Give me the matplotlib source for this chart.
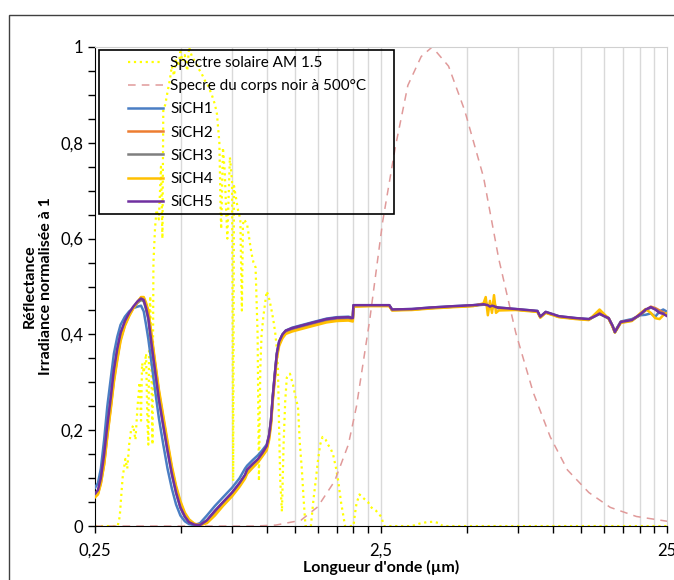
import matplotlib
matplotlib.use('Agg')
import matplotlib.pyplot as plt
from matplotlib.patches import Rectangle
from matplotlib.ticker import FixedLocator, FuncFormatter, MultipleLocator

plt.rcParams['font.family'] = ['Lato', 'DejaVu Sans']

# --- reflectance spectra (wavelength in µm) ---
wl = [0.25, 0.256, 0.262, 0.269, 0.276, 0.284, 0.291, 0.299, 0.307, 0.318,
      0.329, 0.34, 0.352, 0.362, 0.37, 0.377, 0.384, 0.394, 0.405, 0.418,
      0.433, 0.448, 0.464, 0.48, 0.497, 0.515, 0.533, 0.556, 0.582, 0.615,
      0.656, 0.70, 0.753, 0.80, 0.836, 0.85, 0.89, 0.928, 0.96, 0.995,
      1.015, 1.03, 1.045, 1.066, 1.08, 1.10, 1.13, 1.16, 1.22, 1.31,
      1.45, 1.61, 1.75, 1.92, 1.99, 2.0, 2.3, 2.67, 2.73, 3.2,
      3.7, 4.5, 5.24, 5.7, 5.8, 5.9, 6.0, 6.1, 6.2, 6.3,
      6.44, 7.39, 8.79, 9.0, 9.4, 10.45, 12.0, 13.3, 14.5, 15.6,
      16.1, 16.4, 17.2, 18.8, 20.1, 21.0, 21.9, 22.7, 23.5, 24.2, 25]

sich5 = [0.068, 0.075, 0.10, 0.15, 0.21, 0.27, 0.326, 0.37, 0.403, 0.428,
         0.445, 0.458, 0.469, 0.475, 0.472, 0.455, 0.434, 0.38, 0.326, 0.265,
         0.21, 0.158, 0.109, 0.07, 0.039, 0.02, 0.008, 0.003, 0.002, 0.012,
         0.032, 0.05, 0.07, 0.09, 0.107, 0.118, 0.13, 0.14, 0.152, 0.167,
         0.19, 0.22, 0.27, 0.326, 0.36, 0.385, 0.40, 0.408, 0.413, 0.418,
         0.425, 0.432, 0.435, 0.436, 0.434, 0.461, 0.461, 0.461, 0.452, 0.453,
         0.456, 0.459, 0.461, 0.463, 0.462, 0.461, 0.458, 0.460, 0.459, 0.457,
         0.456, 0.453, 0.449, 0.437, 0.447, 0.438, 0.434, 0.432, 0.443, 0.434,
         0.418, 0.405, 0.426, 0.430, 0.442, 0.452, 0.457, 0.452, 0.445, 0.443, 0.438]

sich1 = [0.08, 0.09, 0.12, 0.18, 0.25, 0.31, 0.36, 0.395, 0.42, 0.437,
         0.448, 0.455, 0.458, 0.46, 0.448, 0.42, 0.39, 0.34, 0.285, 0.225,
         0.17, 0.12, 0.078, 0.045, 0.022, 0.01, 0.004, 0.002, 0.006, 0.022,
         0.042, 0.06, 0.08, 0.10, 0.12, 0.126, 0.138, 0.148, 0.158, 0.17,
         0.19, 0.22, 0.27, 0.326, 0.36, 0.385, 0.40, 0.408, 0.414, 0.419,
         0.426, 0.433, 0.436, 0.437, 0.435, 0.461, 0.461, 0.461, 0.452, 0.453,
         0.456, 0.459, 0.461, 0.463, 0.462, 0.460, 0.458, 0.459, 0.458, 0.457,
         0.456, 0.453, 0.449, 0.437, 0.447, 0.438, 0.434, 0.432, 0.444, 0.434,
         0.418, 0.406, 0.427, 0.432, 0.440, 0.441, 0.444, 0.437, 0.448, 0.452, 0.447]

sich2 = [0.062, 0.068, 0.09, 0.13, 0.19, 0.25, 0.305, 0.35, 0.39, 0.42,
         0.44, 0.455, 0.468, 0.477, 0.476, 0.462, 0.445, 0.395, 0.34, 0.28,
         0.225, 0.172, 0.12, 0.08, 0.048, 0.025, 0.012, 0.004, 0.002, 0.008,
         0.026, 0.045, 0.065, 0.085, 0.102, 0.112, 0.125, 0.136, 0.148, 0.162,
         0.185, 0.215, 0.265, 0.32, 0.355, 0.38, 0.395, 0.404, 0.409, 0.414,
         0.421, 0.428, 0.431, 0.432, 0.430, 0.459, 0.460, 0.460, 0.451, 0.452,
         0.455, 0.458, 0.460, 0.463, 0.462, 0.461, 0.457, 0.460, 0.459, 0.456,
         0.455, 0.452, 0.448, 0.436, 0.446, 0.437, 0.433, 0.431, 0.446, 0.434,
         0.417, 0.405, 0.426, 0.430, 0.441, 0.450, 0.458, 0.455, 0.450, 0.446, 0.442]

sich3 = [0.066, 0.073, 0.098, 0.148, 0.208, 0.268, 0.324, 0.368, 0.401, 0.426,
         0.443, 0.456, 0.466, 0.472, 0.469, 0.452, 0.432, 0.378, 0.325, 0.264,
         0.209, 0.157, 0.108, 0.069, 0.038, 0.019, 0.008, 0.003, 0.002, 0.012,
         0.031, 0.049, 0.069, 0.089, 0.106, 0.117, 0.129, 0.139, 0.151, 0.166,
         0.189, 0.219, 0.269, 0.325, 0.359, 0.384, 0.399, 0.407, 0.412, 0.417,
         0.424, 0.431, 0.434, 0.435, 0.433, 0.460, 0.460, 0.460, 0.451, 0.452,
         0.455, 0.458, 0.460, 0.462, 0.468, 0.455, 0.462, 0.452, 0.468, 0.455,
         0.455, 0.452, 0.448, 0.436, 0.446, 0.437, 0.433, 0.431, 0.443, 0.433,
         0.417, 0.404, 0.425, 0.429, 0.441, 0.451, 0.456, 0.453, 0.446, 0.444, 0.439]

sich4 = [0.060, 0.066, 0.088, 0.128, 0.186, 0.246, 0.30, 0.346, 0.386, 0.418,
         0.438, 0.454, 0.468, 0.478, 0.478, 0.466, 0.45, 0.40, 0.345, 0.285,
         0.23, 0.177, 0.125, 0.084, 0.052, 0.028, 0.014, 0.005, 0.002, 0.006,
         0.022, 0.042, 0.062, 0.082, 0.099, 0.109, 0.122, 0.133, 0.145, 0.158,
         0.18, 0.21, 0.26, 0.315, 0.35, 0.376, 0.392, 0.401, 0.406, 0.411,
         0.418, 0.425, 0.428, 0.429, 0.427, 0.458, 0.459, 0.459, 0.450, 0.451,
         0.454, 0.457, 0.459, 0.465, 0.478, 0.440, 0.470, 0.445, 0.482, 0.445,
         0.450, 0.451, 0.447, 0.435, 0.445, 0.436, 0.432, 0.430, 0.452, 0.433,
         0.416, 0.404, 0.424, 0.428, 0.444, 0.453, 0.445, 0.434, 0.432, 0.440, 0.445]

# --- solar spectrum AM 1.5, normalised to 1 ---
wl_sun = [0.25, 0.30, 0.305, 0.312, 0.319, 0.324, 0.329, 0.334, 0.34, 0.346,
          0.352, 0.358, 0.362, 0.365, 0.37, 0.377, 0.381, 0.384, 0.387, 0.39,
          0.394, 0.397, 0.40, 0.405, 0.41, 0.418, 0.425, 0.43, 0.433, 0.44,
          0.448, 0.456, 0.464, 0.472, 0.48, 0.49, 0.497, 0.505, 0.515, 0.525,
          0.533, 0.545, 0.562, 0.575, 0.59, 0.605, 0.62, 0.64, 0.656, 0.667,
          0.68, 0.687, 0.69, 0.70, 0.71, 0.718, 0.725, 0.74, 0.753, 0.76,
          0.765, 0.775, 0.79, 0.805, 0.815, 0.822, 0.83, 0.85, 0.865, 0.88,
          0.895, 0.91, 0.925, 0.935, 0.945, 0.955, 0.97, 0.985, 0.995, 1.01,
          1.03, 1.05, 1.066, 1.08, 1.09, 1.1, 1.11, 1.125, 1.14, 1.155,
          1.17, 1.2, 1.23, 1.26, 1.28, 1.3, 1.32, 1.34, 1.36, 1.42,
          1.45, 1.48, 1.5, 1.53, 1.56, 1.6, 1.63, 1.67, 1.7, 1.74,
          1.77, 1.81, 1.85, 1.87, 2.0, 2.03, 2.05, 2.1, 2.15, 2.2,
          2.25, 2.3, 2.35, 2.4, 2.45, 2.5, 2.56, 3.0, 3.2, 3.4,
          3.6, 3.8, 4.0, 4.1, 25]

sun = [0.0, 0.0, 0.02, 0.10, 0.14, 0.12, 0.17, 0.20, 0.21, 0.18,
       0.25, 0.30, 0.22, 0.34, 0.32, 0.36, 0.22, 0.17, 0.44, 0.48,
       0.30, 0.17, 0.55, 0.62, 0.66, 0.64, 0.75, 0.60, 0.867, 0.88,
       0.906, 0.93, 0.96, 0.94, 0.975, 0.96, 0.99, 0.97, 0.983, 0.95,
       1.0, 0.98, 0.967, 0.955, 0.944, 0.93, 0.92, 0.90, 0.88, 0.86,
       0.80, 0.66, 0.62, 0.79, 0.74, 0.66, 0.60, 0.77, 0.72, 0.094,
       0.71, 0.69, 0.66, 0.64, 0.45, 0.63, 0.64, 0.63, 0.60, 0.57,
       0.55, 0.54, 0.40, 0.094, 0.326, 0.40, 0.44, 0.47, 0.49, 0.48,
       0.457, 0.43, 0.403, 0.37, 0.326, 0.20, 0.094, 0.03, 0.17, 0.26,
       0.31, 0.318, 0.295, 0.264, 0.25, 0.17, 0.12, 0.055, 0.0, 0.0,
       0.055, 0.10, 0.132, 0.17, 0.186, 0.18, 0.17, 0.16, 0.148, 0.12,
       0.094, 0.05, 0.016, 0.0, 0.0, 0.03, 0.047, 0.066, 0.06, 0.055,
       0.05, 0.04, 0.035, 0.032, 0.025, 0.02, 0.0, 0.0, 0.0, 0.005,
       0.008, 0.009, 0.006, 0.0, 0.0]

# --- black body at 500 °C, normalised to 1 ---
wl_bb = [0.25, 0.9, 1.07, 1.31, 1.5, 1.72, 1.92, 2.05, 2.28, 2.53,
         2.8, 3.1, 3.45, 3.77, 4.3, 4.9, 5.7, 6.44, 7.39, 8.5,
         9.75, 11.2, 13.3, 15.8, 19.5, 25]
bb = [0.0, 0.0, 0.002, 0.012, 0.04, 0.094, 0.17, 0.25, 0.43, 0.635,
      0.79, 0.92, 0.98, 1.0, 0.96, 0.867, 0.728, 0.558, 0.403, 0.279,
      0.186, 0.117, 0.07, 0.039, 0.02, 0.01]

labels = ['SiCH1', 'SiCH2', 'SiCH3', 'SiCH4', 'SiCH5']
colors = ['#4a7ec4', '#ed7d31', '#7f7f7f', '#ffc000', '#7030a0']
series = [sich1, sich2, sich3, sich4, sich5]

x_major = [0.25, 2.5, 25]
x_minor = [0.25 * k for k in range(2, 10)] + [2.5 * k for k in range(2, 10)]


def comma(v, pos):
    return f"{v:g}".replace('.', ',')


fig = plt.figure(figsize=(6.74, 5.80), dpi=100)
ax = fig.add_axes([0.141, 0.093, 0.849, 0.826])

ax.plot(wl_sun, sun, color='#ffff00', ls=':', lw=1.6, label='Spectre solaire AM 1.5', zorder=2)
ax.plot(wl_bb, bb, color='#e09a9a', ls=(0, (5, 4)), lw=1.1,
        label='Specre du corps noir à 500°C', zorder=2)
for ys, lab, c in zip(series, labels, colors):
    ax.plot(wl, ys, color=c, lw=1.8, label=lab, zorder=3)

ax.set_xscale('log')
ax.set_xlim(0.25, 25)
ax.set_ylim(0, 1)

ax.xaxis.set_major_locator(FixedLocator(x_major))
ax.xaxis.set_minor_locator(FixedLocator(x_minor))
ax.xaxis.set_major_formatter(FuncFormatter(comma))
ax.xaxis.set_minor_formatter(FuncFormatter(lambda v, p: ''))
ax.yaxis.set_major_locator(MultipleLocator(0.2))
ax.yaxis.set_minor_locator(MultipleLocator(0.05))
ax.yaxis.set_major_formatter(FuncFormatter(comma))

for xv in x_minor + [2.5]:
    ax.axvline(xv, color='#d9d9d9', lw=1, zorder=0)

ax.tick_params(axis='both', which='both', direction='out', length=5, width=1,
               labelsize=12, color='black')
ax.tick_params(axis='x', pad=7)
for side in ['top', 'right']:
    ax.spines[side].set_color('#d0d0d0')
for side in ['left', 'bottom']:
    ax.spines[side].set_color('black')

ax.set_xlabel("Longueur d'onde (µm)", fontsize=11.5, fontweight='bold', labelpad=1)
ax.set_ylabel('Réflectance\nIrradiance normalisée à 1', fontsize=11.5,
              fontweight='bold')
ax.yaxis.set_label_coords(-0.074, 0.5)

# legend text without its own frame; box drawn separately (Excel-like padding)
leg = ax.legend(loc='upper left', bbox_to_anchor=(0.0577, 0.981), borderaxespad=0,
                fontsize=11, handlelength=2.3, handletextpad=0.45, labelspacing=0.6,
                frameon=False, borderpad=0)
ax.add_patch(Rectangle((0.007, 0.651), 0.516, 0.343, transform=ax.transAxes,
                       fill=False, edgecolor='black', lw=1.2, zorder=5))

fig.patches.append(Rectangle((0.0134, -0.05), 1.0, 1.024, transform=fig.transFigure,
                             fill=False, edgecolor='#404040', lw=1))

fig.savefig('out.png', dpi=100)
